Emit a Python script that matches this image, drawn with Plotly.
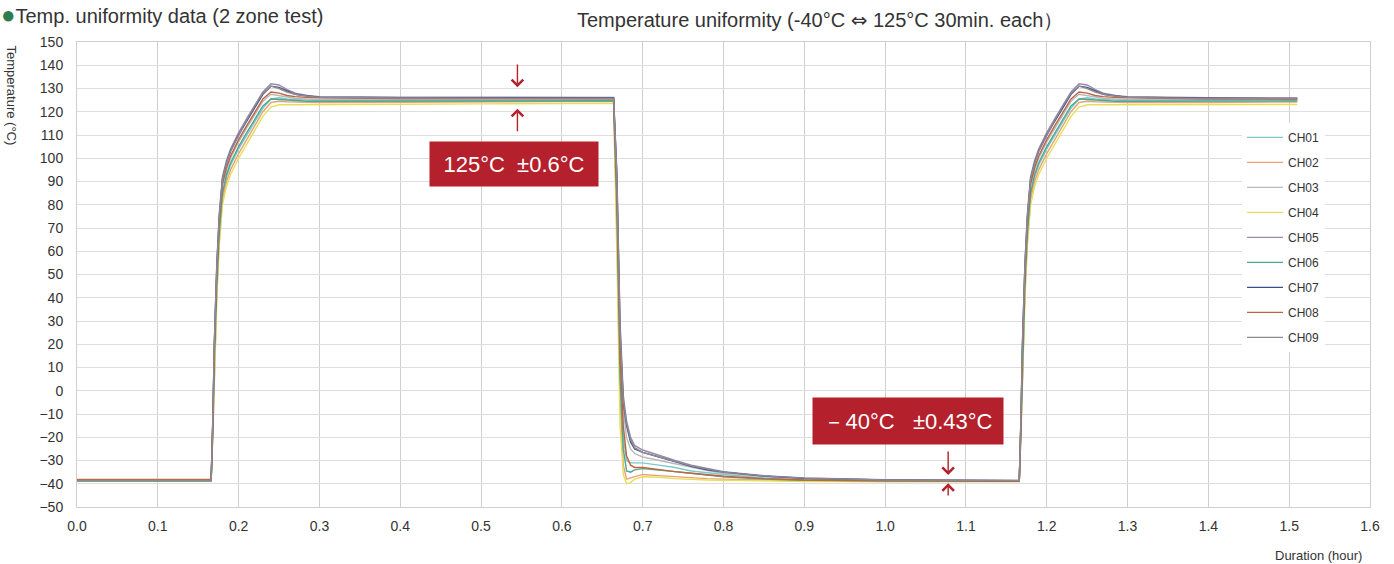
import plotly.graph_objects as go

# ---------------- data ----------------
T = [0.000, 0.166, 0.168, 0.170, 0.173, 0.176, 0.180, 0.185, 0.190, 0.200, 0.210, 0.220,
     0.230, 0.240, 0.250, 0.260, 0.270, 0.285, 0.300, 0.400, 0.500, 0.600, 0.664, 0.668,
     0.672, 0.676, 0.680, 0.685, 0.690, 0.700, 0.720, 0.740, 0.760, 0.780, 0.800, 0.850,
     0.900, 1.000, 1.100, 1.166, 1.168, 1.170, 1.173, 1.176, 1.180, 1.185, 1.190, 1.200,
     1.210, 1.220, 1.230, 1.240, 1.250, 1.260, 1.270, 1.285, 1.300, 1.400, 1.510]

CH01 = [-38.6, -38.6, -18, 12, 44, 66, 84, 92, 97, 104, 110, 116, 121.5, 125.5, 126, 125.5, 125.2, 125, 124.8,
        124.8, 124.9, 125.0, 125.0,
        80, 10, -20, -30, -31, -31, -31, -32, -33, -34.5, -35.3, -36, -37.5, -38.3, -38.6, -38.8, -38.8,
        -18, 12, 44, 66, 84, 92, 97, 104, 110, 116, 121.5, 125.5, 126, 125.5, 125.2, 125, 124.8,
        124.8, 124.9]
CH02 = [-38.3, -38.3, -19, 10, 42, 64, 82, 90, 95, 102, 108, 114, 120, 124, 124.5, 124.3, 124.2, 124.1, 124,
        124.1, 124.3, 124.5, 124.5,
        70, -5, -32, -38, -37.5, -37, -36, -36.5, -37, -37.5, -37.8, -38, -38.5, -38.8, -39, -39, -39,
        -19, 10, 42, 64, 82, 90, 95, 102, 108, 114, 120, 124, 124.5, 124.3, 124.2, 124.1, 124,
        124.0, 124.2]
CH03 = [-38.7, -38.7, -16, 16, 48, 70, 88, 95, 100, 107, 113, 119, 124.5, 127.5, 127, 126.3, 125.8, 125.5, 125.3,
        125.3, 125.3, 125.3, 125.3,
        88, 20, -8, -20, -25, -27, -28.5, -30, -31.5, -33, -34.3, -35.5, -37, -38, -38.5, -38.7, -38.7,
        -16, 16, 48, 70, 88, 95, 100, 107, 113, 119, 124.5, 127.5, 127, 126.3, 125.8, 125.5, 125.3,
        125.1, 125.1]
CH04 = [-38.9, -38.9, -20, 8, 40, 62, 80, 88, 93, 100, 106, 112, 118, 122, 123, 123, 123, 123, 123,
        123.2, 123.4, 123.6, 123.6,
        60, -15, -36, -40, -39.5, -38, -37, -37.2, -37.8, -38.2, -38.4, -38.5, -38.8, -39, -39, -39, -39,
        -20, 8, 40, 62, 80, 88, 93, 100, 106, 112, 118, 122, 123, 123, 123, 123, 123,
        123.0, 123.1]
CH05 = [-38.5, -38.5, -12, 22, 55, 76, 92, 99, 104, 111, 117, 123, 128.5, 132, 131.5, 129.5, 128, 127, 126.5,
        126.3, 126.2, 126.2, 126.2,
        95, 30, -2, -13, -20, -23.5, -25.5, -27.8, -30, -32, -33.5, -34.8, -36.5, -37.5, -38.3, -38.5, -38.6,
        -12, 22, 55, 76, 92, 99, 104, 111, 117, 123, 128.5, 132, 131.5, 129.5, 128, 127, 126.5,
        126.0, 125.9]
CH06 = [-38.7, -38.7, -18, 13, 45, 67, 85, 93, 98, 105, 111, 117, 122.5, 125.5, 125.3, 124.8, 124.6, 124.5, 124.5,
        124.5, 124.6, 124.7, 124.7,
        78, 5, -25, -34.5, -35, -34, -33.5, -34, -34.8, -35.5, -36.3, -37, -38, -38.5, -38.8, -38.9, -38.9,
        -18, 13, 45, 67, 85, 93, 98, 105, 111, 117, 122.5, 125.5, 125.3, 124.8, 124.6, 124.5, 124.5,
        124.5, 124.6]
CH07 = [-38.6, -38.6, -14, 20, 53, 74, 91, 98, 103, 110, 116, 122, 127.5, 131, 130.5, 129, 127.5, 126.8, 126.3,
        126.0, 126.0, 126.0, 126.0,
        92, 25, -5, -15, -22, -25, -26.5, -28.5, -30.5, -32.5, -34, -35, -36.7, -37.7, -38.4, -38.6, -38.7,
        -14, 20, 53, 74, 91, 98, 103, 110, 116, 122, 127.5, 131, 130.5, 129, 127.5, 126.8, 126.3,
        125.8, 125.7]
CH08 = [-38.2, -38.2, -15, 18, 50, 72, 89, 96, 101, 108, 114, 120, 125.5, 128.5, 128, 127, 126.5, 126.2, 126,
        125.7, 125.6, 125.6, 125.6,
        85, 15, -15, -28, -32, -33, -33, -34, -34.8, -35.5, -36.2, -36.8, -37.8, -38.4, -38.7, -38.8, -38.8,
        -15, 18, 50, 72, 89, 96, 101, 108, 114, 120, 125.5, 128.5, 128, 127, 126.5, 126.2, 126,
        125.5, 125.4]
CH09 = [-38.6, -38.6, -13, 21, 54, 75, 91, 98, 103, 110, 116.5, 122.5, 128, 131, 130, 128.5, 127.5, 126.7, 126.2,
        125.9, 125.8, 125.8, 125.8,
        93, 27, -4, -14, -21, -24.5, -26.5, -28.3, -30.3, -32.3, -33.8, -35, -36.6, -37.6, -38.4, -38.6, -38.6,
        -13, 21, 54, 75, 91, 98, 103, 110, 116.5, 122.5, 128, 131, 130, 128.5, 127.5, 126.7, 126.2,
        125.6, 125.6]

CHANNELS = ["CH01", "CH02", "CH03", "CH04", "CH05", "CH06", "CH07", "CH08", "CH09"]
SERIES = [CH01, CH02, CH03, CH04, CH05, CH06, CH07, CH08, CH09]
COLORS = ["#7cc9cc", "#e9a273", "#b9b9b9", "#e6de5a", "#9a8aa6", "#4fa88f", "#3d4f86", "#c0643f", "#8d8a98"]

X_TICKS = [0.0, 0.1, 0.2, 0.3, 0.4, 0.5, 0.6, 0.7, 0.8, 0.9, 1.0, 1.1, 1.2, 1.3, 1.4, 1.5, 1.6]
Y_TICKS = list(range(-50, 151, 10))

# annotation anchor values (data units)
BOX_HI = (0.541, 97.5)
BOX_LO = (1.028, -13.0)
ARROWS = [  # x, head y, tail y
    (0.545, 130.5, 141.0),
    (0.545, 121.3, 111.0),
    (1.078, -36.2, -25.5),
    (1.078, -39.8, -45.7),
]

FONT = "Liberation Sans, Arial, sans-serif"
RED = "#b4202b"

fig = go.Figure()
for name, ys, col in zip(CHANNELS, SERIES, COLORS):
    fig.add_trace(go.Scatter(x=T, y=ys, name=name, mode="lines",
                             line=dict(color=col, width=1.4),
                             legendgroup=name))

fig.update_layout(
    width=1394, height=564,
    margin=dict(l=77, r=24, t=42, b=57),
    paper_bgcolor="white", plot_bgcolor="white",
    font=dict(family=FONT, color="#333333", size=12),
    showlegend=True,
    legend=dict(x=0.901, y=0.826, xanchor="left", yanchor="top",
                bgcolor="white", font=dict(size=12, color="#333333"),
                tracegroupgap=6, itemwidth=36),
    xaxis=dict(range=[0, 1.6], tickvals=X_TICKS, tickformat=".1f",
               showgrid=True, gridcolor="#cfcfcf", gridwidth=1,
               showline=True, linecolor="#cfcfcf", mirror=True,
               zeroline=False, ticks="", ticklabelstandoff=6,
               tickfont=dict(size=14, color="#333333")),
    yaxis=dict(range=[-50, 150], tickvals=Y_TICKS,
               showgrid=True, gridcolor="#dedede", gridwidth=1,
               showline=True, linecolor="#cfcfcf", mirror=True,
               zeroline=False, ticks="", ticklabelstandoff=10,
               tickfont=dict(size=14, color="#333333")),
)

anns = [
    dict(text="Temperature uniformity (-40°C <span style='font-family:DejaVu Sans'>⇔</span> 125°C 30min. each）",
         xref="paper", yref="paper",
         x=0.575, y=1.0, yshift=22, xanchor="center", yanchor="middle", showarrow=False,
         font=dict(size=20, color="#333333")),
    dict(text="<span style='color:#2f7d4f;font-size:24px'>●</span>Temp. uniformity data (2 zone test)",
         xref="paper", yref="paper", x=0, xshift=-78, y=1.0, yshift=43, xanchor="left",
         yanchor="top", showarrow=False, font=dict(size=20, color="#333333")),
    dict(text="Temperature (°C)", xref="paper", yref="paper", x=0, xshift=-65, y=0.885,
         textangle=90, xanchor="center", yanchor="middle", showarrow=False,
         font=dict(size=13, color="#333333")),
    dict(text="Duration (hour)", xref="paper", yref="paper", x=1.0, xshift=-52, y=0, yshift=-48,
         xanchor="center", yanchor="middle", showarrow=False,
         font=dict(size=13, color="#333333")),
    dict(text="125°C  ±0.6°C", xref="x", yref="y", x=BOX_HI[0], y=BOX_HI[1], showarrow=False,
         bgcolor=RED, width=168, height=44, borderpad=0,
         font=dict(size=22, color="white")),
    dict(text="－40°C   ±0.43°C", xref="x", yref="y", x=BOX_LO[0], y=BOX_LO[1], showarrow=False,
         bgcolor=RED, width=190, height=46, borderpad=0,
         font=dict(size=22, color="white")),
]
for ax_x, head_y, tail_y in ARROWS:
    anns.append(dict(text="", xref="x", yref="y", x=ax_x, y=head_y,
                     axref="x", ayref="y", ax=ax_x, ay=tail_y,
                     showarrow=True, arrowhead=4, arrowsize=1.6, arrowwidth=1.4,
                     arrowcolor=RED, standoff=0))
fig.update_layout(annotations=anns)

fig.write_html("out.html", config={"displayModeBar": False})
